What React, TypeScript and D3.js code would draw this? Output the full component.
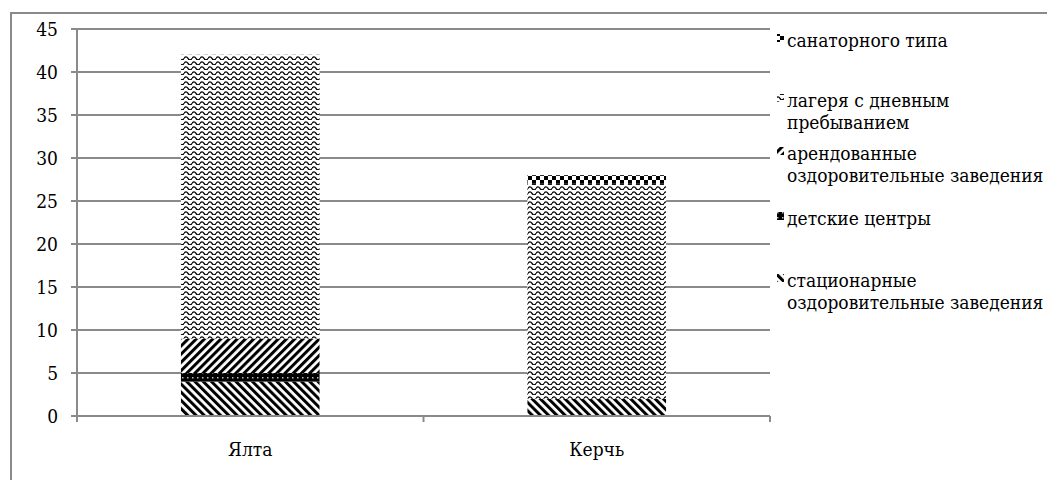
import React from 'react';
import * as d3 from 'd3';

// categories and stacked series (bottom to top)
const categories = ['Ялта', 'Керчь'];
const seriesKeys = ['stationary', 'children', 'rented', 'camps', 'sanatorium'];
const stationary = [4, 2];
const children = [1, 0];
const rented = [4, 0];
const camps = [33, 25];
const sanatorium = [0, 1];
const yTicks = [0, 5, 10, 15, 20, 25, 30, 35, 40, 45];

// legend, listed top to bottom as in the picture
const legendItems = [
  { key: 'sanatorium', lines: ['санаторного типа'] },
  { key: 'camps', lines: ['лагеря с дневным', 'пребыванием'] },
  { key: 'rented', lines: ['арендованные', 'оздоровительные заведения'] },
  { key: 'children', lines: ['детские центры'] },
  { key: 'stationary', lines: ['стационарные', 'оздоровительные заведения'] },
];

const W = 1047;
const H = 480;
const plot = { left: 77, right: 770, top: 29, bottom: 416 };
const legendX = 777;
const legendBaselines = [47, 107, 160, 225, 287];
const lineH = 22;
const gridColor = '#8a8a8a';
const font = "'DejaVu Serif Condensed', 'DejaVu Serif', serif";
const fs = 19;

const Patterns: React.FC = () => (
  <defs>
    <pattern id="p-stationary" width="5.8" height="10" patternUnits="userSpaceOnUse" patternTransform="rotate(-45)">
      <rect width="5.8" height="10" fill="#fff" />
      <rect width="3" height="10" fill="#000" />
    </pattern>
    <pattern id="p-rented" width="5.8" height="10" patternUnits="userSpaceOnUse" patternTransform="rotate(45)">
      <rect width="5.8" height="10" fill="#fff" />
      <rect width="3" height="10" fill="#000" />
    </pattern>
    <pattern id="p-children" width="5" height="5" patternUnits="userSpaceOnUse">
      <rect width="5" height="5" fill="#000" />
      <rect x="2" y="2" width="1.5" height="1.5" fill="#bbb" />
    </pattern>
    <pattern id="p-camps" width="8" height="5" patternUnits="userSpaceOnUse">
      <rect width="8" height="5" fill="#fff" />
      <path d="M0,3.4 Q2,0.2 4,3.4 T8,3.4" fill="none" stroke="#000" strokeWidth="1.3" />
    </pattern>
    <pattern id="p-sanatorium" width="8" height="8" patternUnits="userSpaceOnUse">
      <rect width="8" height="8" fill="#fff" />
      <rect width="4" height="4" fill="#000" />
      <rect x="4" y="4" width="4" height="4" fill="#000" />
    </pattern>
  </defs>
);

export default function App() {
  const values: Record<string, number[]> = { stationary, children, rented, camps, sanatorium };
  const rows = categories.map((c, i) => {
    const r: any = { category: c };
    seriesKeys.forEach(k => (r[k] = values[k][i]));
    return r;
  });
  const stacked = d3.stack().keys(seriesKeys)(rows);

  const x = d3.scaleBand<string>()
    .domain(categories)
    .range([plot.left, plot.right])
    .paddingInner(0.6)
    .paddingOuter(0.3);
  const y = d3.scaleLinear().domain([0, 45]).range([plot.bottom, plot.top]);
  const step = (plot.right - plot.left) / categories.length;
  const catTicks = d3.range(categories.length + 1).map(i => plot.left + i * step);

  return (
    <svg width={W} height={H} style={{ position: 'absolute', left: 0, top: 0, background: '#fff' }} fontFamily={font}>
      <Patterns />
      <rect x={0} y={0} width={W} height={H} fill="#fff" />
      {/* outer chart frame */}
      <rect x={11} y={13} width={W + 20} height={H + 20} fill="none" stroke={gridColor} strokeWidth={2} />

      {/* gridlines */}
      {yTicks.map(t => (
        <line key={t} x1={plot.left - 6} x2={plot.right} y1={y(t)} y2={y(t)} stroke={gridColor} strokeWidth={2} />
      ))}
      {yTicks.map(t => (
        <text key={'l' + t} x={58} y={y(t)} dy="0.35em" textAnchor="end" fontSize={fs} fill="#000">{t}</text>
      ))}

      {/* bars */}
      {stacked.map(s => (
        <g key={s.key} fill={`url(#p-${s.key})`}>
          {s.map((d, i) => (d[1] - d[0] > 0 ? (
            <rect key={i} x={x(categories[i])} width={x.bandwidth()} y={y(d[1])} height={y(d[0]) - y(d[1])} />
          ) : null))}
        </g>
      ))}

      {/* axes */}
      <line x1={plot.left} x2={plot.left} y1={plot.top} y2={plot.bottom + 6} stroke={gridColor} strokeWidth={2} />
      <line x1={plot.left - 6} x2={plot.right} y1={plot.bottom} y2={plot.bottom} stroke={gridColor} strokeWidth={2} />
      {catTicks.map((cx, i) => (
        <line key={i} x1={cx} x2={cx} y1={plot.bottom} y2={plot.bottom + 6} stroke={gridColor} strokeWidth={2} />
      ))}
      {categories.map(c => (
        <text key={c} x={(x(c) || 0) + x.bandwidth() / 2} y={456} textAnchor="middle" fontSize={fs} fill="#000">{c}</text>
      ))}

      {/* legend */}
      {legendItems.map((it, i) => (
        <g key={it.key}>
          <rect x={legendX} y={legendBaselines[i] - 13} width={7} height={8} fill={`url(#p-${it.key})`} />
          {it.lines.map((ln, j) => (
            <text key={j} x={legendX + 10} y={legendBaselines[i] + j * lineH} fontSize={fs} fill="#000">{ln}</text>
          ))}
        </g>
      ))}
    </svg>
  );
}
